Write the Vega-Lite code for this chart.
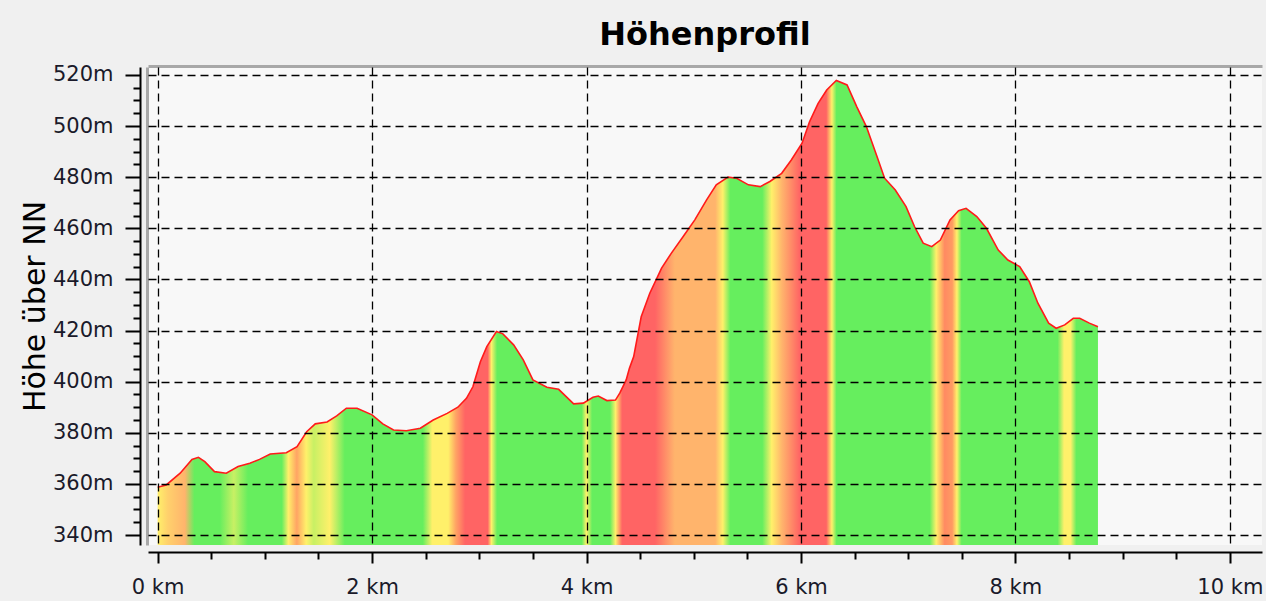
{
  "$schema": "https://vega.github.io/schema/vega-lite/v6.json",
  "width": 1114,
  "height": 478,
  "autosize": {"type": "none"},
  "padding": {"left": 148, "top": 67, "right": 4, "bottom": 56},
  "background": "#f0f0f0",
  "config": {"view": {"fill": "#f8f8f8", "stroke": null}, "font": "DejaVu Sans"},
  "title": {"text": "Höhenprofil", "font": "DejaVu Sans", "fontSize": 32, "fontWeight": "bold", "color": "#000000", "anchor": "middle", "frame": "group", "baseline": "alphabetic", "offset": -13},
  "data": {"values": [
    {"km": 0, "elev": 358.7}, {"km": 0.08, "elev": 359.6}, {"km": 0.21, "elev": 364.2}, {"km": 0.32, "elev": 369.6},
    {"km": 0.38, "elev": 370.4}, {"km": 0.44, "elev": 368.7}, {"km": 0.53, "elev": 364.8}, {"km": 0.64, "elev": 364.2},
    {"km": 0.75, "elev": 366.8}, {"km": 0.86, "elev": 368.1}, {"km": 0.95, "elev": 369.6}, {"km": 1.05, "elev": 371.7},
    {"km": 1.2, "elev": 372.2}, {"km": 1.3, "elev": 374.6}, {"km": 1.39, "elev": 380.4}, {"km": 1.47, "elev": 383.5},
    {"km": 1.58, "elev": 384.2}, {"km": 1.67, "elev": 386.6}, {"km": 1.76, "elev": 389.6}, {"km": 1.86, "elev": 389.6},
    {"km": 2.0, "elev": 387}, {"km": 2.1, "elev": 383.5}, {"km": 2.2, "elev": 381.1}, {"km": 2.32, "elev": 380.8},
    {"km": 2.45, "elev": 381.8}, {"km": 2.57, "elev": 385}, {"km": 2.7, "elev": 387.6}, {"km": 2.8, "elev": 390},
    {"km": 2.88, "elev": 393.5}, {"km": 2.94, "elev": 398}, {"km": 3.01, "elev": 407.8}, {"km": 3.07, "elev": 413.7},
    {"km": 3.16, "elev": 419.6}, {"km": 3.22, "elev": 418.7}, {"km": 3.32, "elev": 414.4}, {"km": 3.41, "elev": 408.5},
    {"km": 3.5, "elev": 400.7}, {"km": 3.63, "elev": 397.8}, {"km": 3.74, "elev": 397}, {"km": 3.88, "elev": 391.3},
    {"km": 3.97, "elev": 391.6}, {"km": 4.06, "elev": 393.9}, {"km": 4.11, "elev": 394.4}, {"km": 4.19, "elev": 392.6},
    {"km": 4.27, "elev": 392.8}, {"km": 4.31, "elev": 395.5}, {"km": 4.37, "elev": 400.7}, {"km": 4.4, "elev": 405.2},
    {"km": 4.44, "elev": 409.8}, {"km": 4.51, "elev": 425.4}, {"km": 4.59, "elev": 434.6}, {"km": 4.7, "elev": 444.4},
    {"km": 4.79, "elev": 450.2}, {"km": 4.9, "elev": 456.7}, {"km": 5.01, "elev": 463.3}, {"km": 5.12, "elev": 471.1},
    {"km": 5.21, "elev": 477}, {"km": 5.32, "elev": 480}, {"km": 5.4, "elev": 479.6}, {"km": 5.51, "elev": 477},
    {"km": 5.62, "elev": 476.3}, {"km": 5.71, "elev": 478.3}, {"km": 5.82, "elev": 481.5}, {"km": 5.91, "elev": 486.7},
    {"km": 6.01, "elev": 493.3}, {"km": 6.08, "elev": 501.7}, {"km": 6.16, "elev": 508.9}, {"km": 6.24, "elev": 514.1},
    {"km": 6.33, "elev": 517.8}, {"km": 6.43, "elev": 516.1}, {"km": 6.52, "elev": 507.6}, {"km": 6.61, "elev": 499.8},
    {"km": 6.71, "elev": 488}, {"km": 6.78, "elev": 479.6}, {"km": 6.88, "elev": 475}, {"km": 6.98, "elev": 468.5},
    {"km": 7.06, "elev": 460.6}, {"km": 7.14, "elev": 454.2}, {"km": 7.22, "elev": 452.8}, {"km": 7.3, "elev": 455.4},
    {"km": 7.39, "elev": 463.3}, {"km": 7.47, "elev": 466.9}, {"km": 7.54, "elev": 467.8}, {"km": 7.64, "elev": 464.6},
    {"km": 7.73, "elev": 460}, {"km": 7.84, "elev": 451.5}, {"km": 7.93, "elev": 447.6}, {"km": 8.04, "elev": 445},
    {"km": 8.13, "elev": 439.1}, {"km": 8.21, "elev": 430.7}, {"km": 8.31, "elev": 422.9}, {"km": 8.38, "elev": 420.9},
    {"km": 8.46, "elev": 422.2}, {"km": 8.54, "elev": 424.8}, {"km": 8.6, "elev": 424.8}, {"km": 8.69, "elev": 422.9},
    {"km": 8.77, "elev": 421.5}
  ]},
  "layer": [
    {
      "mark": {
        "type": "area",
        "clip": false,
        "fillOpacity": 1,
        "color": {
          "gradient": "linear", "x1": 0, "y1": 0, "x2": 1, "y2": 0,
          "stops": [
            {"offset": 0, "color": "#fff06a"},
            {"offset": 0.011, "color": "#ffd06c"},
            {"offset": 0.029, "color": "#ffb46c"},
            {"offset": 0.039, "color": "#66ee5e"},
            {"offset": 0.066, "color": "#66ee5e"},
            {"offset": 0.081, "color": "#c8f064"},
            {"offset": 0.096, "color": "#66ee5e"},
            {"offset": 0.132, "color": "#66ee5e"},
            {"offset": 0.139, "color": "#fff06a"},
            {"offset": 0.148, "color": "#ffa464"},
            {"offset": 0.158, "color": "#fff06a"},
            {"offset": 0.166, "color": "#c8f064"},
            {"offset": 0.183, "color": "#fff06a"},
            {"offset": 0.199, "color": "#66ee5e"},
            {"offset": 0.282, "color": "#66ee5e"},
            {"offset": 0.292, "color": "#fff06a"},
            {"offset": 0.309, "color": "#fff06a"},
            {"offset": 0.317, "color": "#ffa464"},
            {"offset": 0.327, "color": "#ff6464"},
            {"offset": 0.351, "color": "#ff6464"},
            {"offset": 0.355, "color": "#fff06a"},
            {"offset": 0.361, "color": "#66ee5e"},
            {"offset": 0.451, "color": "#66ee5e"},
            {"offset": 0.456, "color": "#fff06a"},
            {"offset": 0.462, "color": "#66ee5e"},
            {"offset": 0.481, "color": "#66ee5e"},
            {"offset": 0.487, "color": "#fff06a"},
            {"offset": 0.494, "color": "#ff6464"},
            {"offset": 0.529, "color": "#ff6464"},
            {"offset": 0.55, "color": "#ffb46c"},
            {"offset": 0.593, "color": "#ffb46c"},
            {"offset": 0.601, "color": "#fff06a"},
            {"offset": 0.609, "color": "#66ee5e"},
            {"offset": 0.643, "color": "#66ee5e"},
            {"offset": 0.653, "color": "#fff06a"},
            {"offset": 0.664, "color": "#ffb46c"},
            {"offset": 0.683, "color": "#ff6464"},
            {"offset": 0.711, "color": "#ff6464"},
            {"offset": 0.717, "color": "#fff06a"},
            {"offset": 0.722, "color": "#66ee5e"},
            {"offset": 0.821, "color": "#66ee5e"},
            {"offset": 0.828, "color": "#fff06a"},
            {"offset": 0.837, "color": "#ff8a62"},
            {"offset": 0.845, "color": "#ff9a62"},
            {"offset": 0.85, "color": "#fff06a"},
            {"offset": 0.855, "color": "#66ee5e"},
            {"offset": 0.957, "color": "#66ee5e"},
            {"offset": 0.964, "color": "#fff06a"},
            {"offset": 0.971, "color": "#fff06a"},
            {"offset": 0.977, "color": "#66ee5e"},
            {"offset": 1, "color": "#66ee5e"}
          ]
        }
      },
      "encoding": {
        "x": {
          "field": "km", "type": "quantitative",
          "scale": {"domain": [-0.09, 10.3], "nice": false, "zero": false},
          "axis": {
            "title": null, "zindex": 1, "offset": 7,
            "values": [0, 0.5, 1, 1.5, 2, 2.5, 3, 3.5, 4, 4.5, 5, 5.5, 6, 6.5, 7, 7.5, 8, 8.5, 9, 9.5, 10],
            "labelExpr": "datum.value % 2 === 0 ? datum.value + ' km' : ''",
            "labelFont": "DejaVu Sans", "labelFontSize": 21, "labelColor": "#1a1a2a", "labelPadding": 13,
            "labelFlush": false, "labelOverlap": false,
            "domainColor": "#000000", "domainWidth": 2,
            "tickColor": "#000000", "tickWidth": 2,
            "tickSize": {"condition": {"test": "datum.value % 2 === 0", "value": 11}, "value": 7},
            "grid": true, "gridColor": "#000000", "gridDash": [8, 5], "gridWidth": 1.3,
            "gridOpacity": {"condition": {"test": "datum.value % 2 === 0", "value": 1}, "value": 0}
          }
        },
        "y": {
          "field": "elev", "type": "quantitative",
          "scale": {"domain": [336.1, 523.1], "nice": false, "zero": false},
          "axis": {
            "title": "Höhe über NN", "titleFont": "DejaVu Sans", "titleFontSize": 30, "titleFontWeight": "normal", "titleColor": "#000000", "titlePadding": 2,
            "zindex": 1, "offset": 8,
            "values": [340, 345, 350, 355, 360, 365, 370, 375, 380, 385, 390, 395, 400, 405, 410, 415, 420, 425, 430, 435, 440, 445, 450, 455, 460, 465, 470, 475, 480, 485, 490, 495, 500, 505, 510, 515, 520],
            "labelExpr": "datum.value % 20 === 0 ? datum.value + 'm' : ''",
            "labelFont": "DejaVu Sans", "labelFontSize": 21, "labelColor": "#1a1a2a", "labelPadding": 12,
            "labelFlush": false, "labelOverlap": false,
            "domainColor": "#000000", "domainWidth": 2,
            "tickColor": "#000000", "tickWidth": 2,
            "tickSize": {"condition": {"test": "datum.value % 20 === 0", "value": 15}, "value": 7},
            "grid": true, "gridColor": "#000000", "gridDash": [8, 5], "gridWidth": 1.3,
            "gridOpacity": {"condition": {"test": "datum.value % 20 === 0", "value": 1}, "value": 0}
          }
        },
        "y2": {"datum": 336.1}
      }
    },
    {
      "mark": {"type": "line", "color": "#ff1a1a", "strokeWidth": 1.6, "clip": false},
      "encoding": {
        "x": {"field": "km", "type": "quantitative",
          "axis": {"orient": "top", "title": null, "ticks": false, "labels": false, "grid": false, "domainColor": "#a8a8a8", "domainWidth": 3, "offset": 1}},
        "y": {"field": "elev", "type": "quantitative",
          "axis": {"orient": "left", "title": null, "ticks": false, "labels": false, "grid": false, "domainColor": "#a8a8a8", "domainWidth": 3, "offset": 1}}
      }
    }
  ],
  "resolve": {"axis": {"x": "independent", "y": "independent"}}
}
